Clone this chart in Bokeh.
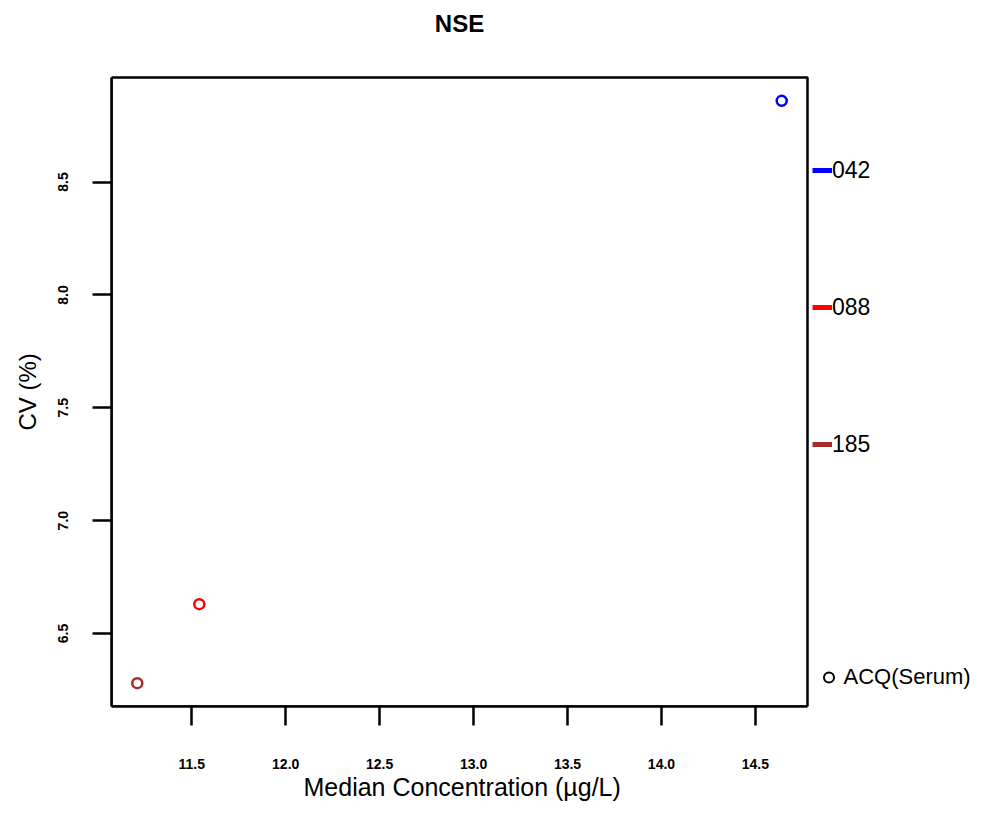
from bokeh.plotting import figure
from bokeh.models import (Range1d, FixedTicker, Legend, LegendItem, BoxAnnotation,
                          Label, Title, PrintfTickFormatter)
from bokeh.embed import file_html
from bokeh.resources import INLINE

# ---- data ----
labs = ["185", "088", "042"]
colors = ["#A52A2A", "#FF0000", "#0000FF"]
median_conc = [11.21, 11.54, 14.64]
cv_pct = [6.28, 6.63, 8.86]
x_ticks = [11.5, 12.0, 12.5, 13.0, 13.5, 14.0, 14.5]
y_ticks = [6.5, 7.0, 7.5, 8.0, 8.5]
legend_order = ["042", "088", "185"]
title_text = "NSE"
x_label = "Median Concentration  (\u00b5g/L)"
y_label = "CV (%)"
acq_label = "ACQ(Serum)"

def r_range(vals):
    lo, hi = min(vals), max(vals)
    pad = 0.04 * (hi - lo)
    return lo - pad, hi + pad

xr = r_range(median_conc)
yr = r_range(cv_pct)

# layout (pixels)
W, H = 975, 806
LEFT, BOTTOM = 111, 100
BOX_W, BOX_H = 696, 629         # size of the plotting box
FRAME_W = W - LEFT              # frame extends right (legend) and up (title)
FRAME_H = H - BOTTOM
x_end = xr[0] + (xr[1] - xr[0]) * FRAME_W / BOX_W
y_end = yr[0] + (yr[1] - yr[0]) * FRAME_H / BOX_H

FONT = "Liberation Sans"

p = figure(width=W, height=H, output_backend="svg", toolbar_location=None,
           x_range=Range1d(xr[0], x_end), y_range=Range1d(yr[0], y_end),
           min_border_left=LEFT, min_border_right=0, min_border_top=0,
           min_border_bottom=BOTTOM)
p.grid.visible = False
p.outline_line_color = None
p.background_fill_color = "white"
p.border_fill_color = "white"

xa = p.below[0]
ya = p.left[0]
for ax in (xa, ya):
    ax.axis_line_color = "black"
    ax.axis_line_width = 2.5
    ax.major_tick_line_color = "black"
    ax.major_tick_line_width = 2.5
    ax.major_tick_out = 19
    ax.major_tick_in = 0
    ax.minor_tick_line_color = None
    ax.major_label_text_font = FONT
    ax.major_label_text_font_size = "14px"
    ax.major_label_text_font_style = "bold"
    ax.major_label_text_color = "black"

xa.bounds = xr
ya.bounds = yr
xa.ticker = FixedTicker(ticks=x_ticks)
ya.ticker = FixedTicker(ticks=y_ticks)
xa.formatter = PrintfTickFormatter(format="%.1f")
ya.formatter = PrintfTickFormatter(format="%.1f")
xa.major_label_standoff = 33
ya.major_label_orientation = "vertical"
ya.major_label_standoff = 24

# axis titles, centred on the plotting box
xt = Title(text=x_label, align="left", offset=192, vertical_align="top", standoff=2,
           text_font=FONT, text_font_size="25px", text_font_style="normal",
           text_color="black")
p.add_layout(xt, "below")
yt = Title(text=y_label, align="left", offset=276, vertical_align="top", standoff=25,
           text_font=FONT, text_font_size="24px", text_font_style="normal",
           text_color="black")
p.add_layout(yt, "left")

# the plotting box
p.add_layout(BoxAnnotation(left=xr[0], right=xr[1], bottom=yr[0], top=yr[1],
                           fill_alpha=0, line_color="black", line_alpha=1,
                           line_width=2.5))

# title above the box
p.add_layout(Label(x=(xr[0] + xr[1]) / 2, y=FRAME_H - 23, y_units="screen",
                   text=title_text, text_align="center", text_baseline="middle",
                   text_font=FONT, text_font_size="24px", text_font_style="bold",
                   text_color="black"))

p.scatter(x=median_conc, y=cv_pct, marker="circle", size=10,
          fill_color=None, line_color=colors, line_width=2.5)

# legend key renderers (nothing drawn in the plot)
nan = float("nan")
items = []
for lab in legend_order:
    c = colors[labs.index(lab)]
    r = p.line(x=[nan, nan], y=[nan, nan], line_color=c, line_width=5)
    items.append(LegendItem(label=lab, renderers=[r]))
acq_r = p.scatter(x=[nan], y=[nan], marker="circle", size=10, fill_color=None,
                  line_color="black", line_width=2)

def style(leg, fs):
    leg.padding = 0
    leg.margin = 0
    leg.border_line_color = None
    leg.background_fill_alpha = 0
    leg.label_text_font = FONT
    leg.label_text_font_size = fs
    leg.label_text_color = "black"
    leg.label_height = 28
    leg.glyph_height = 28

leg1 = Legend(items=items, location=(701, 248))
style(leg1, "23px")
leg1.glyph_width = 20
leg1.label_standoff = 0
leg1.spacing = 109
p.add_layout(leg1, "center")

leg2 = Legend(items=[LegendItem(label=acq_label, renderers=[acq_r])], location=(704.5, 15))
style(leg2, "22px")
leg2.glyph_width = 25
leg2.label_standoff = 3
p.add_layout(leg2, "center")

open("out.html", "w").write(file_html(p, INLINE))
